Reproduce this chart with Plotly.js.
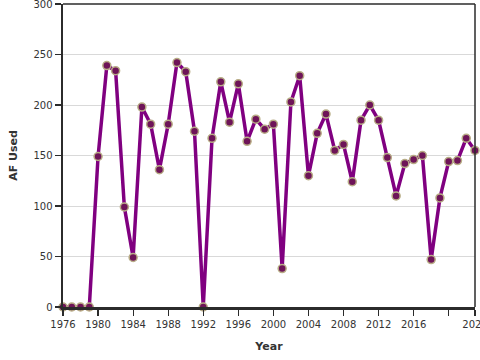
<!DOCTYPE html>
<html>
<head>
<meta charset="utf-8">
<script src="https://cdn.plot.ly/plotly-3.0.1.min.js"></script>
<style>html,body{margin:0;padding:0;background:#fff;}#chart{width:480px;height:360px;}</style>
</head>
<body>
<div id="chart"></div>
<script>
var years = [1976,1977,1978,1979,1980,1981,1982,1983,1984,1985,1986,1987,1988,1989,1990,1991,1992,1993,1994,1995,1996,1997,1998,1999,2000,2001,2002,2003,2004,2005,2006,2007,2008,2009,2010,2011,2012,2013,2014,2015,2016,2017,2018,2019,2020,2021,2022,2023];
var afUsed = [0,0,0,0,149,239,234,99,49,198,181,136,181,242,233,174,0,167,223,183,221,164,186,176,181,38,203,229,130,172,191,155,161,124,185,200,185,148,110,142,146,150,47,108,144,145,167,155];
var xTickVals = [1976,1980,1984,1988,1992,1996,2000,2004,2008,2012,2016,2020,2023];
var xTickText = ["1976","1980","1984","1988","1992","1996","2000","2004","2008","2012","2016","","2023"];
var yTickVals = [0,50,100,150,200,250,300];

var trace = {
  x: years, y: afUsed, type: 'scatter', mode: 'lines+markers',
  cliponaxis: false,
  line: {color: '#800080', width: 3.5},
  marker: {color: '#6e1458', size: 8, line: {color: '#b8ad86', width: 1.5}},
  hoverinfo: 'x+y'
};
var layout = {
  width: 480, height: 360,
  margin: {l: 63, r: 5, t: 4, b: 53},
  paper_bgcolor: '#fff', plot_bgcolor: '#fff',
  font: {family: 'DejaVu Sans, Verdana, sans-serif', size: 10, color: '#333'},
  showlegend: false,
  xaxis: {
    range: [1976, 2023], tickmode: 'array', tickvals: xTickVals, ticktext: xTickText,
    ticklabeloverflow: 'allow',
    showgrid: false, zeroline: false, showline: true, linecolor: '#2b2b2b', linewidth: 2.5,
    ticks: 'outside', ticklen: 6, tickwidth: 1.2, tickcolor: '#2b2b2b', tickangle: 0,
    tickfont: {size: 10, color: '#333'},
    title: {text: '<b>Year</b>', font: {size: 11, color: '#333'}, standoff: 14}
  },
  yaxis: {
    range: [0, 300], tickmode: 'array', tickvals: yTickVals,
    ticklabeloverflow: 'allow',
    showgrid: true, gridcolor: '#d9d9d9', gridwidth: 1, zeroline: false,
    showline: true, linecolor: '#2b2b2b', linewidth: 2.5,
    ticks: 'outside', ticklen: 6, tickwidth: 1.2, tickcolor: '#2b2b2b',
    tickfont: {size: 10, color: '#333'},
    title: {text: '<b>AF Used</b>', font: {size: 11, color: '#333'}, standoff: 14}
  },
  shapes: [
    {type: 'line', xref: 'paper', yref: 'paper', x0: 0, x1: 1, y0: 1, y1: 1, line: {color: '#2b2b2b', width: 1.5}},
    {type: 'line', xref: 'paper', yref: 'paper', x0: 1, x1: 1, y0: 0, y1: 1, line: {color: '#2b2b2b', width: 1.5}}
  ]
};
Plotly.newPlot('chart', [trace], layout, {displayModeBar: false, staticPlot: true});
</script>
</body>
</html>
